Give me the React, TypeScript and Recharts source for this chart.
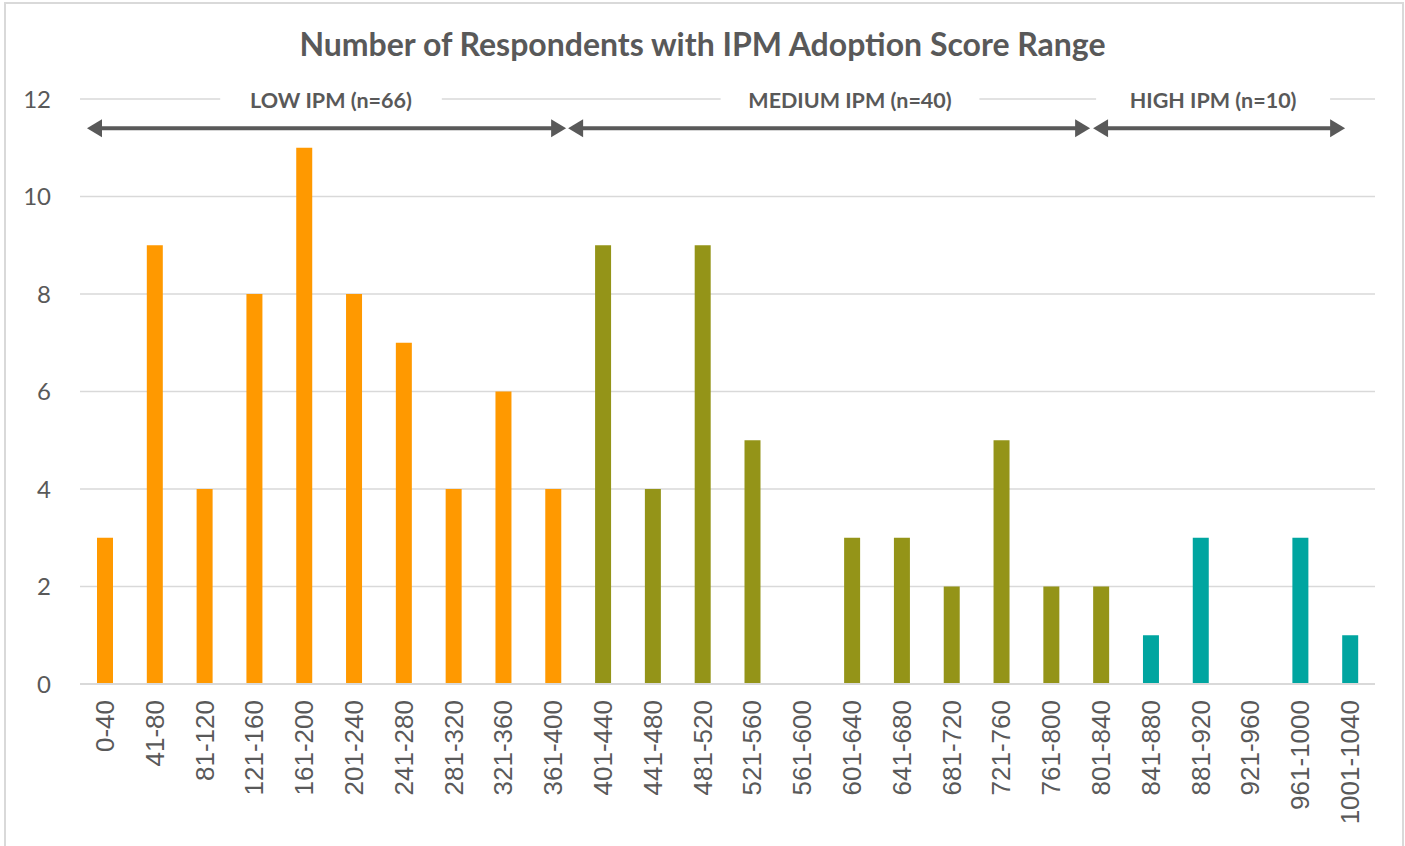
import React from 'react';
import { BarChart, Bar, XAxis, YAxis, CartesianGrid, Cell, ReferenceLine } from 'recharts';

const categories = ['0-40', '41-80', '81-120', '121-160', '161-200', '201-240', '241-280', '281-320', '321-360', '361-400', '401-440', '441-480', '481-520', '521-560', '561-600', '601-640', '641-680', '681-720', '721-760', '761-800', '801-840', '841-880', '881-920', '921-960', '961-1000', '1001-1040'];
const counts = [3, 9, 4, 8, 11, 8, 7, 4, 6, 4, 9, 4, 9, 5, 0, 3, 3, 2, 5, 2, 2, 1, 3, 0, 3, 1];
const groupOf = ['low', 'low', 'low', 'low', 'low', 'low', 'low', 'low', 'low', 'low', 'medium', 'medium', 'medium', 'medium', 'medium', 'medium', 'medium', 'medium', 'medium', 'medium', 'medium', 'high', 'high', 'high', 'high', 'high'];
const yTicks = [0, 2, 4, 6, 8, 10, 12];

// group annotations: positions in category-band units (0 = left edge of first band)
const groupNames = ['LOW IPM (n=66)', 'MEDIUM IPM (n=40)', 'HIGH IPM (n=10)'];
const groupLabelAt = [5.04, 15.46, 22.75];
const arrowStart = [0.14, 9.8, 20.34];
const arrowEnd = [9.76, 20.28, 25.4];
const arrowLevel = 11.4;
const labelLevel = 12;

const COLORS: Record<string, string> = { low: '#FF9900', medium: '#949418', high: '#00A5A0' };
const TEXT = '#595959';
const GRID = '#d9d9d9';
const FONT = 'Lato, "Open Sans", sans-serif';

const data = categories.map((c, i) => ({ range: c, count: counts[i], group: groupOf[i] }));
const firstCat = categories[0];
const lastCat = categories[categories.length - 1];

// convert a band-unit position to pixels using the segment drawn between first and last category centres
const toPx = (x1: number, x2: number, v: number) => {
  const band = (x2 - x1) / (categories.length - 1);
  return x1 + (v - 0.5) * band;
};

const XTick = (props: any) => {
  const { x, y, payload } = props;
  return (
    <text
      x={x}
      y={y}
      transform={`rotate(-90, ${x}, ${y})`}
      textAnchor="end"
      dominantBaseline="central"
      fill={TEXT}
      fontSize={26}
      fontFamily='"Liberation Sans", Arial, sans-serif'
    >
      {payload.value}
    </text>
  );
};

const ArrowsShape = (props: any) => {
  const { x1, y1, x2 } = props;
  if (x1 == null || x2 == null) return null;
  const head = 15;
  const half = 9;
  return (
    <g>
      {groupNames.map((_, i) => {
        const a = toPx(x1, x2, arrowStart[i]);
        const b = toPx(x1, x2, arrowEnd[i]);
        return (
          <g key={i}>
            <line x1={a + head - 1} y1={y1} x2={b - head + 1} y2={y1} stroke={TEXT} strokeWidth={4} />
            <polygon points={`${a},${y1} ${a + head},${y1 - half} ${a + head},${y1 + half}`} fill={TEXT} />
            <polygon points={`${b},${y1} ${b - head},${y1 - half} ${b - head},${y1 + half}`} fill={TEXT} />
          </g>
        );
      })}
    </g>
  );
};

const LabelsShape = (props: any) => {
  const { x1, y1, x2 } = props;
  if (x1 == null || x2 == null) return null;
  return (
    <g>
      {groupNames.map((text, i) => {
        const cx = toPx(x1, x2, groupLabelAt[i]);
        const w = text.length * 12.4 + 48;
        return (
          <g key={i}>
            <rect x={cx - w / 2} y={y1 - 12} width={w} height={24} fill="#ffffff" />
            <text
              x={cx}
              y={y1 + 1}
              textAnchor="middle"
              dominantBaseline="central"
              fill={TEXT}
              fontSize={21.5}
              fontWeight="bold"
              fontFamily={FONT}
            >
              {text}
            </text>
          </g>
        );
      })}
    </g>
  );
};

export default function App() {
  return (
    <div style={{ position: 'absolute', left: 0, top: 0, width: 1405, height: 846, background: '#fff', overflow: 'hidden' }}>
      <div
        style={{
          position: 'absolute',
          left: 4,
          top: 2,
          width: 1396,
          height: 860,
          border: `2px solid ${GRID}`,
          pointerEvents: 'none',
        }}
      />
      <div
        style={{
          position: 'absolute',
          left: 0,
          top: 23,
          width: 1405,
          textAlign: 'center',
          fontFamily: FONT,
          fontWeight: 'bold',
          fontSize: 32,
          color: TEXT,
          lineHeight: '42px',
        }}
      >
        Number of Respondents with IPM Adoption Score Range
      </div>
      <div style={{ position: 'absolute', left: 0, top: 0 }}>
        <BarChart width={1405} height={846} data={data} margin={{ top: 99, right: 30, left: 0, bottom: 0 }} barSize={16}>
          <CartesianGrid vertical={false} stroke={GRID} strokeWidth={1.5} />
          <XAxis
            dataKey="range"
            interval={0}
            height={162}
            tickLine={false}
            axisLine={{ stroke: GRID, strokeWidth: 2 }}
            tick={<XTick />}
            tickMargin={10}
          />
          <YAxis
            domain={[0, 12]}
            ticks={yTicks}
            width={80}
            axisLine={false}
            tickLine={false}
            tickMargin={23}
            tick={{ fill: TEXT, fontSize: 24, fontFamily: FONT }}
          />
          <Bar dataKey="count" isAnimationActive={false}>
            {data.map((d, i) => (
              <Cell key={i} fill={COLORS[d.group]} />
            ))}
          </Bar>
          <ReferenceLine
            segment={[
              { x: firstCat, y: arrowLevel },
              { x: lastCat, y: arrowLevel },
            ]}
            shape={ArrowsShape}
            ifOverflow="visible"
          />
          <ReferenceLine
            segment={[
              { x: firstCat, y: labelLevel },
              { x: lastCat, y: labelLevel },
            ]}
            shape={LabelsShape}
            ifOverflow="visible"
          />
        </BarChart>
      </div>
    </div>
  );
}
